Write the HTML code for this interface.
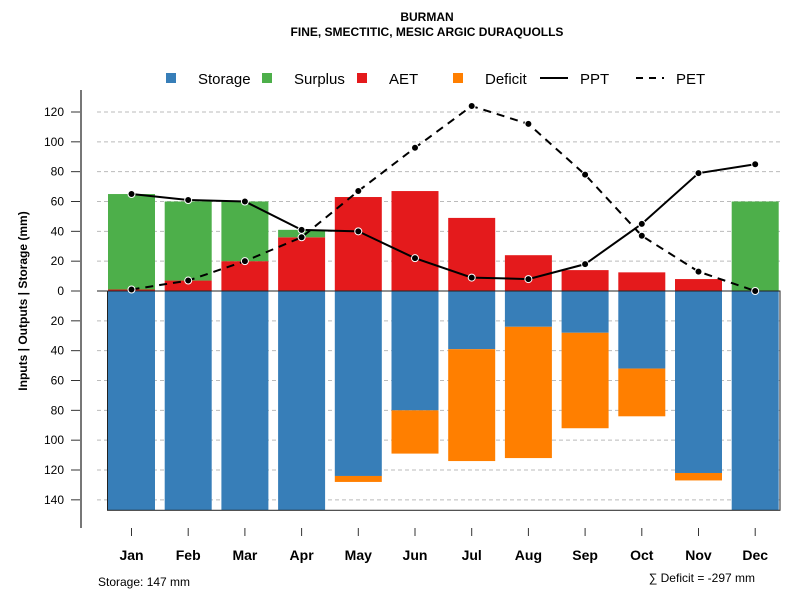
<!DOCTYPE html>
<html><head><meta charset="utf-8"><style>
body{margin:0;background:#fff}
svg text{font-family:"Liberation Sans",sans-serif}
</style></head><body>
<svg id="c" width="800" height="600" xmlns="http://www.w3.org/2000/svg">
<text x="427" y="21" text-anchor="middle" font-size="12" font-weight="bold">BURMAN</text>
<text x="427" y="36" text-anchor="middle" font-size="12" font-weight="bold">FINE, SMECTITIC, MESIC ARGIC DURAQUOLLS</text>
<g>
<rect x="166" y="73" width="10" height="10" fill="#377eb8"/>
<text x="198" y="84" font-size="15">Storage</text>
<rect x="262" y="73" width="10" height="10" fill="#4daf4a"/>
<text x="294" y="84" font-size="15">Surplus</text>
<rect x="357" y="73" width="10" height="10" fill="#e41a1c"/>
<text x="389" y="84" font-size="15">AET</text>
<rect x="453" y="73" width="10" height="10" fill="#ff7f00"/>
<text x="485" y="84" font-size="15">Deficit</text>
<line x1="540" y1="78" x2="568" y2="78" stroke="#000" stroke-width="2"/>
<text x="580" y="84" font-size="15">PPT</text>
<line x1="636" y1="78" x2="664" y2="78" stroke="#000" stroke-width="2" stroke-dasharray="7,6"/>
<text x="676" y="84" font-size="15">PET</text>
</g>
<text transform="translate(27,301) rotate(-90)" text-anchor="middle" font-size="12" font-weight="bold">Inputs | Outputs | Storage    (mm)</text>
<text x="98" y="586" font-size="12">Storage: 147 mm</text>
<text x="755" y="582" text-anchor="end" font-size="12">∑ Deficit = -297 mm</text>
<g id="grid"></g><g id="bars"></g><g id="axes"></g><g id="lines"></g>
</svg>
<script>
const months=["Jan","Feb","Mar","Apr","May","Jun","Jul","Aug","Sep","Oct","Nov","Dec"];
const aet=[1,7,20,36,63,67,49,24,14,12.5,8,0];
const surplus=[64,53,40,5,0,0,0,0,0,0,0,60];
const storage=[147,147,147,147,124,80,39,24,28,52,122,147];
const deficit=[0,0,0,0,4,29,75,88,64,32,5,0];
const ppt=[65,61,60,41,40,22,9,8,18,45,79,85];
const pet=[1,7,20,36,67,96,124,112,78,37,13,0];
const yTicks=[120,100,80,60,40,20,0,20,40,60,80,100,120,140];
const yTickVals=[120,100,80,60,40,20,0,-20,-40,-60,-80,-100,-120,-140];
const NS="http://www.w3.org/2000/svg";
const y=v=>291-v*1.4917;
const xc=i=>131.5+i*56.7;
const bw=47;
function mk(p,t,a){const e=document.createElementNS(NS,t);for(const k in a)e.setAttribute(k,a[k]);document.getElementById(p).appendChild(e);return e;}
yTickVals.forEach((v,i)=>{
 if(v!==0){const g=mk("grid","line",{x1:97,x2:780,y1:y(v),y2:y(v),stroke:"#bbb","stroke-dasharray":"4,3"});
 
 }
 const t=mk("axes","line",{x1:71,x2:80,y1:y(v),y2:y(v),stroke:"#333"});
 
 
 const l=mk("axes","text",{x:64,y:y(v)+4,"text-anchor":"end","font-size":12});l.textContent=yTicks[i];
 
 
});
months.forEach((m,i)=>{
 const x0=xc(i)-bw/2;
 const r1=mk("bars","rect",{x:x0,y:y(0),width:bw,height:y(-storage[i])-y(0),fill:"#377eb8"});
 
 
 if(deficit[i]>0){const r=mk("bars","rect",{x:x0,y:y(-storage[i]),width:bw,height:y(-storage[i]-deficit[i])-y(-storage[i]),fill:"#ff7f00"});
 
 }
 if(aet[i]>0){const r=mk("bars","rect",{x:x0,y:y(aet[i]),width:bw,height:y(0)-y(aet[i]),fill:"#e41a1c"});
 
 }
 if(surplus[i]>0){const r=mk("bars","rect",{x:x0,y:y(aet[i]+surplus[i]),width:bw,height:y(aet[i])-y(aet[i]+surplus[i]),fill:"#4daf4a"});
 
 }
 const t=mk("axes","line",{x1:xc(i),x2:xc(i),y1:528,y2:536,stroke:"#333"});
 
 
 const l=mk("axes","text",{x:xc(i),y:560,"text-anchor":"middle","font-size":14,"font-weight":"bold"});l.textContent=m;
 
 
});
const box=mk("axes","rect",{x:107.5,y:y(0),width:672.5,height:y(-147)-y(0),fill:"none",stroke:"#222"});


const z=mk("axes","line",{x1:97,x2:780,y1:y(0),y2:y(0),stroke:"#222"});


const ax=mk("axes","line",{x1:81,x2:81,y1:90,y2:528,stroke:"#777","stroke-width":2});


function series(vals,name,dash){
 const p=mk("lines","polyline",{points:vals.map((v,i)=>xc(i)+","+y(v)).join(" "),fill:"none",stroke:"#000","stroke-width":2,"stroke-dasharray":dash});
 
 
 vals.forEach((v,i)=>{const c=mk("lines","circle",{cx:xc(i),cy:y(v),r:3.5,fill:"#000",stroke:"#fff","stroke-width":1});
 
 });
}
series(pet,"pet","8,6");
series(ppt,"ppt","none");
</script>
</body></html>
